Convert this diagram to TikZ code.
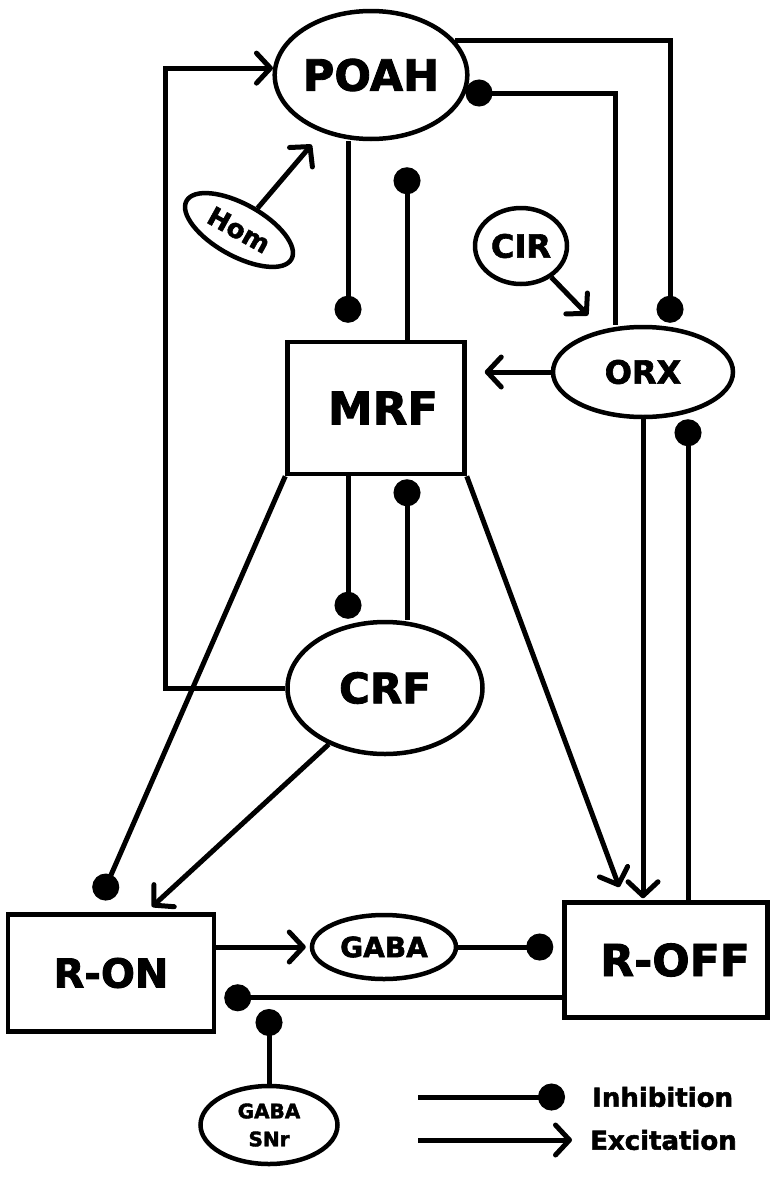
\documentclass[tikz,border=0pt]{standalone}
\usepackage{fontspec}
\setmainfont{DejaVu Sans}[BoldFeatures={FakeBold=2}]
\usetikzlibrary{shapes.geometric,arrows.meta}

\newcommand{\fsz}[1]{\fontsize{#1}{#1}\selectfont\bfseries}

\tikzset{
  oval/.style={draw, ellipse, line width=4.5pt, inner sep=0pt},
  box/.style={draw, rectangle, line width=4.5pt, inner sep=0pt},
  exc/.style={line width=5pt, -{Straight Barb[length=14pt,width=30pt,round]}},
  inh/.style={line width=5pt, -{Circle[length=27pt]}},
}

\begin{document}
\begin{tikzpicture}[x=1pt,y=-1pt]
  \useasboundingbox (0,0) rectangle (776,1178);

  % regions
  \node[oval, minimum width=188pt, minimum height=128pt, font=\fsz{43}] (poah) at (371,75) {POAH};
  \node[oval, minimum width=120pt, minimum height=52pt, rotate=-29, font=\fsz{26}] (hom) at (239,230) {Hom};
  \node[box, minimum width=177pt, minimum height=132pt, font=\fsz{45}] (mrf) at (376,408) {\hspace*{14pt}MRF};
  \node[oval, minimum width=195pt, minimum height=132pt, font=\fsz{42}] (crf) at (385,688) {CRF};
  \node[oval, minimum width=92pt, minimum height=76pt, font=\fsz{32}] (cir) at (521,246) {CIR};
  \node[oval, minimum width=180pt, minimum height=90pt, font=\fsz{32}] (orx) at (643,372) {ORX};
  \node[box, minimum width=206pt, minimum height=117pt, font=\fsz{40}] (ron) at (111,973) {R-ON};
  \node[box, minimum width=203pt, minimum height=115pt, font=\fsz{44}] (roff) at (666,960) {\hspace*{18pt}R-OFF};
  \node[oval, minimum width=144pt, minimum height=64pt, font=\fsz{28}] (gaba) at (384,947) {GABA};
  \node[oval, minimum width=137pt, minimum height=78pt, font=\fsz{20}, align=center] (snr) at (269,1125) {GABA\\[8pt]SNr};

  % tracks
  \coordinate (tl) at (348,0);
  \coordinate (tr) at (407,0);
  \coordinate (xe) at (670,0);
  \coordinate (xf) at (615,0);
  \coordinate (xg) at (688,0);
  \coordinate (yb) at (0,93);
  \coordinate (snrtip) at (269,1009);

  % connections
  \draw[exc] (crf.west) -- ++(-120,0) |- (poah.176);
  \draw[exc, shorten >=16pt] (hom) -- (poah);
  \draw[inh, shorten >=17pt] (poah.south -| tl) -- (mrf.north -| tl);
  \draw[inh, shorten >=26pt] (mrf.north -| tr) -- (poah.south -| tr);
  \draw[inh, shorten >=1pt] (mrf.south -| tl) -- (crf.north -| tl);
  \draw[inh, shorten >=3pt] (crf.north -| tr) -- (mrf.south -| tr);
  \draw[inh, shorten >=14pt] (mrf.south west) -- (ron.105);
  \draw[exc, shorten >=14pt] (mrf.south east) -- (roff.125);
  \draw[exc, shorten >=8pt] (crf.225) -- (ron.60);
  \draw[exc, shorten >=18pt] (orx.west) -- (mrf.east |- orx.west);
  \draw[exc, shorten >=20pt] (cir) -- (orx);
  \draw[inh, shorten >=2pt] (poah.22) -| (orx.north -| xe);
  \draw[inh, shorten >=-4pt] (orx.north -| xf) |- (poah.east |- yb);
  \draw[exc, shorten >=2pt] (orx.south) -- (orx.south |- roff.north);
  \draw[inh] (roff.north -| xg) -- (orx.south -| xg);
  \draw[exc, shorten >=4pt] (ron.east |- gaba.west) -- (gaba.west);
  \draw[inh, shorten >=9pt] (gaba.east) -- (roff.west |- gaba.east);
  \draw[inh, shorten >=8pt] (roff.200) -- (ron.east |- roff.200);
  \draw[inh] (snr.north) -- (snrtip);

  % legend
  \node[anchor=west, inner sep=0pt, font=\fsz{26}] (inhtxt) at (592,1097) {Inhibition};
  \node[anchor=west, inner sep=0pt, font=\fsz{26}] (exctxt) at (590,1140) {Excitation};
  \coordinate (inhstart) at (418,1097);
  \coordinate (excstart) at (418,1140);
  \draw[inh, shorten >=27pt] (inhstart) -- (inhtxt.west);
  \draw[exc, shorten >=18pt] (excstart) -- (exctxt.west);
\end{tikzpicture}
\end{document}
